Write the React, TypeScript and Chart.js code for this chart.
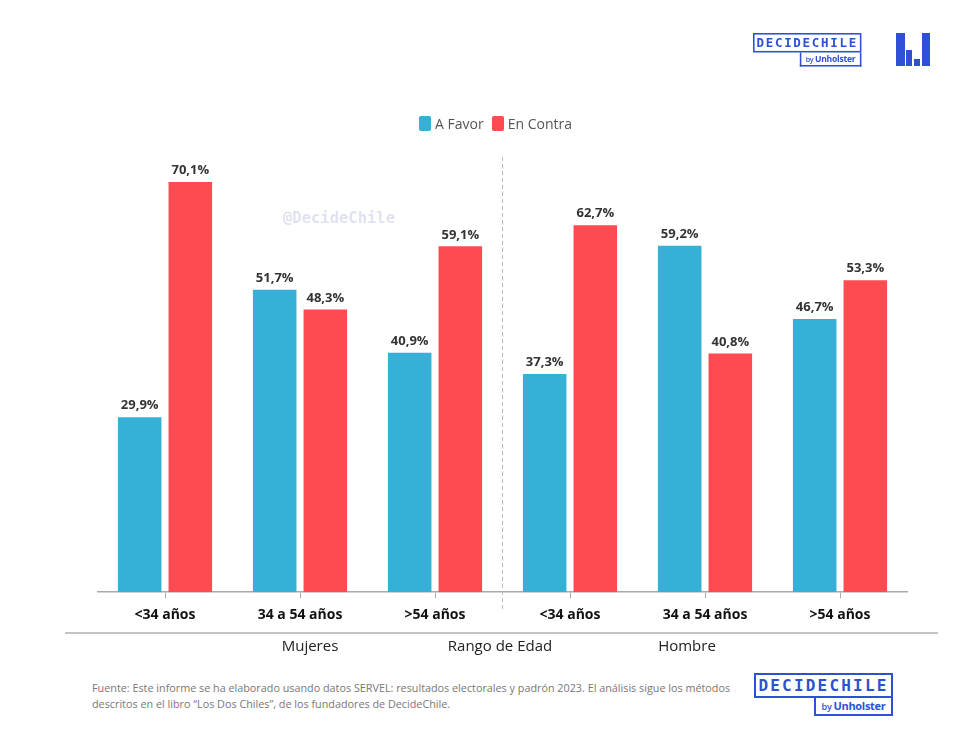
import React, { useEffect, useRef } from "react";
import { Chart, registerables } from "chart.js";

Chart.register(...registerables);

const categories = ["<34 años", "34 a 54 años", ">54 años", "<34 años", "34 a 54 años", ">54 años"];
const aFavor = [29.9, 51.7, 40.9, 37.3, 59.2, 46.7];
const enContra = [70.1, 48.3, 59.1, 62.7, 40.8, 53.3];
const seriesNames = ["A Favor", "En Contra"];
const groupLabels = ["Mujeres", "Rango de Edad", "Hombre"];

const BLUE = "#36b0d6";
const RED = "#fd4b51";
const LOGO = "#2d50d4";

const labelsPlugin = {
  id: "valueLabels",
  afterDatasetsDraw(chart: any) {
    const ctx = chart.ctx;
    ctx.save();
    ctx.font = "bold 13px 'Open Sans'";
    ctx.fillStyle = "#333";
    ctx.textAlign = "center";
    ctx.textBaseline = "bottom";
    chart.data.datasets.forEach((ds: any, di: number) => {
      const meta = chart.getDatasetMeta(di);
      meta.data.forEach((bar: any, i: number) => {
        const v = ds.data[i];
        ctx.fillText(v.toFixed(1).replace(".", ",") + "%", bar.x, bar.y - 5);
      });
    });
    ctx.restore();
  },
};

const dividerPlugin = {
  id: "divider",
  afterDraw(chart: any) {
    const xs = chart.scales.x;
    const x = (xs.getPixelForValue(2) + xs.getPixelForValue(3)) / 2;
    const ctx = chart.ctx;
    ctx.save();
    ctx.strokeStyle = "#bbbbbb";
    ctx.lineWidth = 1;
    ctx.setLineDash([4, 3]);
    ctx.beginPath();
    ctx.moveTo(x, 157);
    ctx.lineTo(x, 611);
    ctx.stroke();
    ctx.restore();
  },
};

function Logo({ scale, left, top }: { scale: number; left: number; top: number }) {
  return (
    <div
      style={{
        position: "absolute",
        left,
        top,
        width: 139,
        transform: `scale(${scale})`,
        transformOrigin: "0 0",
      }}
    >
      <div
        style={{
          boxSizing: "border-box",
          width: 139,
          height: 25,
          border: `2px solid ${LOGO}`,
          color: LOGO,
          fontFamily: "'DejaVu Sans Mono'",
          fontWeight: "bold",
          fontSize: 16,
          letterSpacing: 2.2,
          lineHeight: "21px",
          textAlign: "center",
        }}
      >
        DECIDECHILE
      </div>
      <div
        style={{
          boxSizing: "border-box",
          marginLeft: 60,
          width: 79,
          height: 18,
          border: `2px solid ${LOGO}`,
          borderTop: "none",
          color: LOGO,
          fontFamily: "'Open Sans'",
          fontWeight: "bold",
          fontSize: 11,
          lineHeight: "15px",
          textAlign: "center",
          letterSpacing: -0.3,
        }}
      >
        <span style={{ fontSize: 9, fontWeight: 600 }}>by </span>Unholster
      </div>
    </div>
  );
}

function Icon() {
  const r = (l: number, t: number, w: number, h: number) => (
    <div style={{ position: "absolute", left: l, top: t, width: w, height: h, background: LOGO }} />
  );
  return (
    <div style={{ position: "absolute", left: 896, top: 33, width: 34, height: 33 }}>
      {r(0, 0, 9, 33)}
      {r(10, 17, 6, 16)}
      {r(18, 26, 6, 7)}
      {r(26, 0, 8, 33)}
    </div>
  );
}

export default function App() {
  const ref = useRef<HTMLCanvasElement>(null);
  useEffect(() => {
    const chart = new Chart(ref.current!, {
      type: "bar",
      data: {
        labels: categories,
        datasets: [
          { label: seriesNames[0], data: aFavor, backgroundColor: BLUE, barPercentage: 0.86, categoryPercentage: 0.75 },
          { label: seriesNames[1], data: enContra, backgroundColor: RED, barPercentage: 0.86, categoryPercentage: 0.75 },
        ],
      },
      options: {
        animation: false,
        responsive: false,
        maintainAspectRatio: false,
        layout: { padding: { left: 97.5, right: 48.5, top: 124, bottom: 9 } },
        plugins: { legend: { display: false }, tooltip: { enabled: false } },
        scales: {
          y: { display: false, min: 0, max: 80 },
          x: {
            grid: { display: true, offset: false, drawOnChartArea: false, drawTicks: true, tickLength: 6, color: "#aaaaaa" },
            border: { display: true, color: "#aaaaaa", width: 1.5 },
            ticks: { color: "#111", font: { family: "'Open Sans'", size: 14, weight: "bold" }, padding: 8 },
          },
        },
      },
      plugins: [labelsPlugin, dividerPlugin],
    });
    return () => chart.destroy();
  }, []);

  return (
    <div style={{ position: "relative", width: 956, height: 748, margin: -8, background: "#fff", overflow: "hidden" }}>
      <canvas ref={ref} width={956} height={640} style={{ position: "absolute", left: 0, top: 0 }} />
      <Logo scale={0.78} left={753} top={33} />
      <Icon />
      <div
        style={{
          position: "absolute",
          left: 419,
          top: 114,
          display: "flex",
          alignItems: "center",
          fontFamily: "'Open Sans'",
          fontSize: 14,
          color: "#555",
        }}
      >
        <span style={{ width: 12, height: 15, borderRadius: 2, background: BLUE, marginRight: 4 }} />
        <span style={{ marginRight: 8 }}>{seriesNames[0]}</span>
        <span style={{ width: 12, height: 15, borderRadius: 2, background: RED, marginRight: 4 }} />
        <span>{seriesNames[1]}</span>
      </div>
      <div
        style={{
          position: "absolute",
          left: 283,
          top: 209,
          fontFamily: "'DejaVu Sans Mono'",
          fontWeight: "bold",
          fontSize: 15.5,
          color: "#dfe2f0",
        }}
      >
        @DecideChile
      </div>
      <div style={{ position: "absolute", left: 65, top: 632, width: 873, height: 2, background: "#c4c4c4" }} />
      {[310, 500, 687].map((cx, i) => (
        <div
          key={i}
          style={{
            position: "absolute",
            left: cx - 100,
            width: 200,
            top: 635,
            textAlign: "center",
            fontFamily: "'Open Sans'",
            fontSize: 15,
            color: "#222",
          }}
        >
          {groupLabels[i]}
        </div>
      ))}
      <div
        style={{
          position: "absolute",
          left: 92,
          top: 680,
          fontFamily: "'Open Sans'",
          fontSize: 10.8,
          lineHeight: "16px",
          color: "#777",
          whiteSpace: "nowrap",
        }}
      >
        Fuente: Este informe se ha elaborado usando datos SERVEL: resultados electorales y padrón 2023. El análisis sigue los métodos
        <br />
        descritos en el libro “Los Dos Chiles”, de los fundadores de DecideChile.
      </div>
      <Logo scale={1} left={754} top={673} />
    </div>
  );
}
